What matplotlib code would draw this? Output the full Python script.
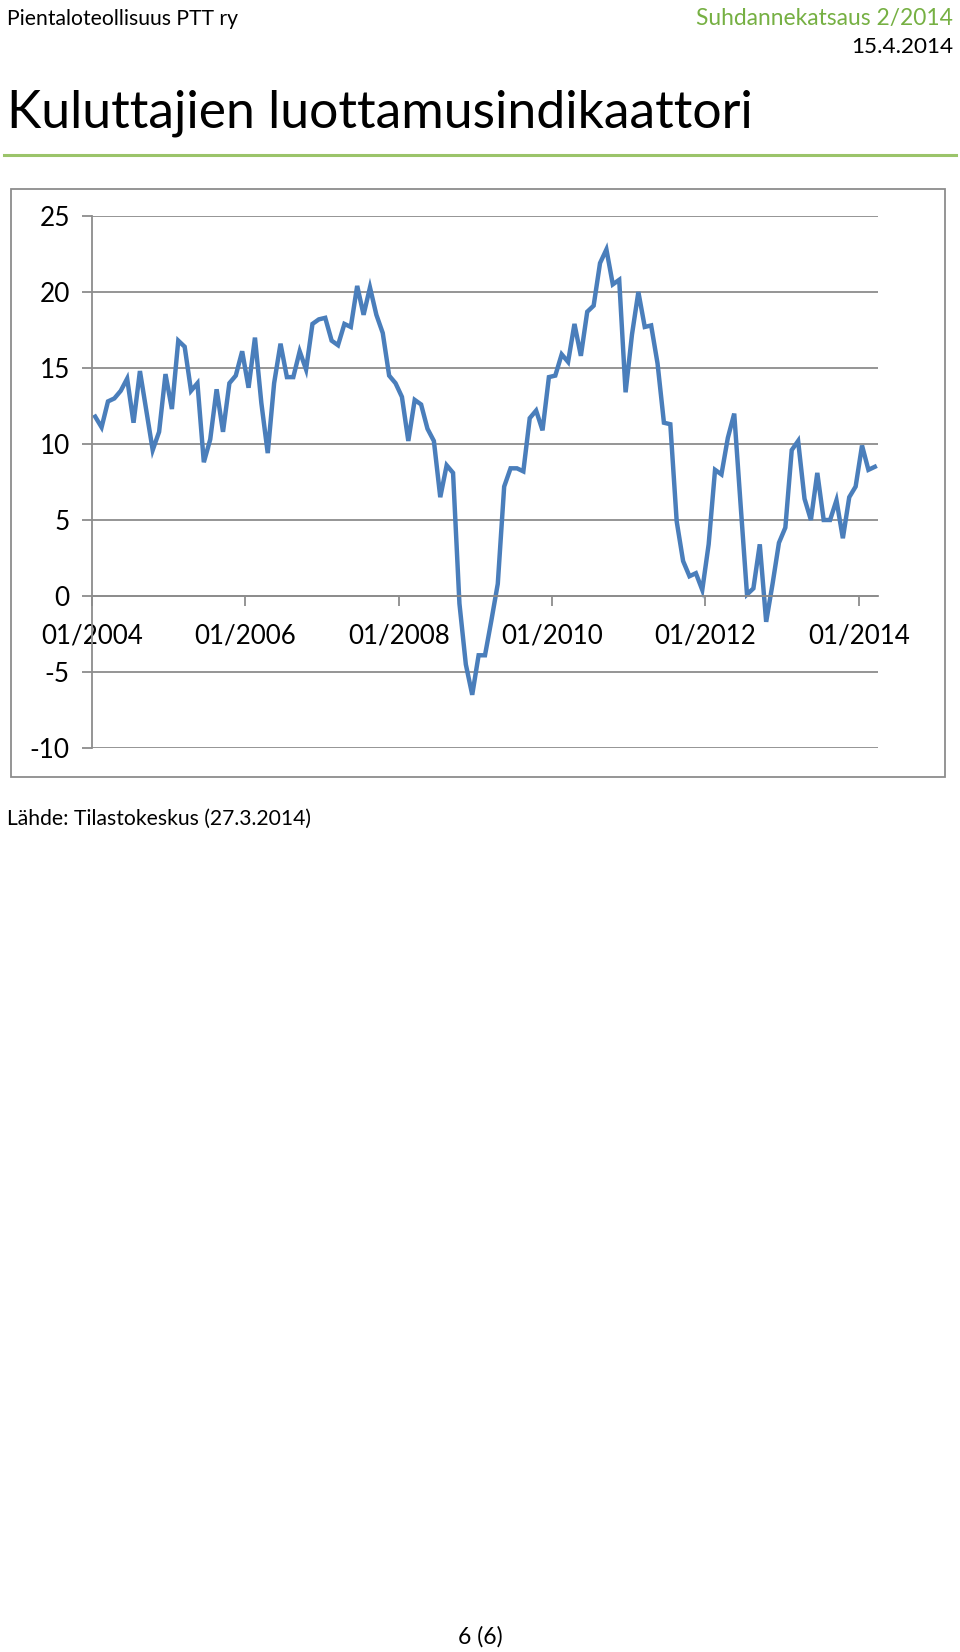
import matplotlib.pyplot as plt
from matplotlib.patches import Rectangle

plt.rcParams['font.family'] = ['Lato', 'DejaVu Sans']

# Kuukausittainen kuluttajien luottamusindikaattori 01/2004 - 03/2014
values = [
    11.8, 11.1, 12.8, 13.0, 13.5, 14.3, 11.4, 14.8, 12.2, 9.6, 10.8, 14.6,
    12.3, 16.8, 16.4, 13.5, 14.0, 8.8, 10.3, 13.6, 10.8, 14.0, 14.5, 16.1,
    13.7, 17.0, 12.7, 9.4, 14.0, 16.6, 14.4, 14.4, 16.1, 14.9, 17.9, 18.2,
    18.3, 16.8, 16.5, 17.9, 17.7, 20.4, 18.5, 20.3, 18.5, 17.3, 14.5, 14.0,
    13.1, 10.2, 12.9, 12.6, 11.0, 10.2, 6.5, 8.6, 8.1, -0.5, -4.5, -6.5,
    -3.9, -3.9, -1.6, 0.8, 7.2, 8.4, 8.4, 8.2, 11.7, 12.2, 10.9, 14.4,
    14.5, 15.9, 15.4, 17.9, 15.8, 18.7, 19.1, 21.9, 22.8, 20.5, 20.8, 13.4,
    17.2, 20.0, 17.7, 17.8, 15.3, 11.4, 11.3, 4.9, 2.3, 1.3, 1.5, 0.4,
    3.4, 8.3, 8.0, 10.4, 12.0, 6.0, 0.1, 0.5, 3.4, -1.7, 0.8, 3.5,
    4.5, 9.6, 10.2, 6.4, 5.0, 8.1, 5.0, 5.0, 6.3, 3.8, 6.5, 7.2,
    9.9, 8.3, 8.5,
]
tick_labels = ['01/2004', '01/2006', '01/2008', '01/2010', '01/2012', '01/2014']
y_ticks = [-10, -5, 0, 5, 10, 15, 20, 25]

W, H = 960, 1652
fig = plt.figure(figsize=(W / 100, H / 100), dpi=100)


def fx(x):
    return x / W


def fy(y):
    return 1 - y / H


grey = '#8c8c8c'
green_text = '#76b043'
green_line = '#9bc46a'

# otsikot
fig.text(fx(7), fy(19), 'Pientaloteollisuus PTT ry', fontsize=15.2, va='center', ha='left')
fig.text(fx(953), fy(19), 'Suhdannekatsaus 2/2014', fontsize=16.4, va='center', ha='right',
         color=green_text)
fig.text(fx(953), fy(47), '15.4.2014', fontsize=16.2, va='center', ha='right')
fig.text(fx(7), fy(113), 'Kuluttajien luottamusindikaattori', fontsize=37.3, va='center', ha='left')
fig.add_artist(plt.Line2D([fx(4), fx(956)], [fy(155), fy(155)], color=green_line, lw=2.2))

# kaavion kehys
fig.add_artist(Rectangle((fx(11), fy(777)), fx(945) - fx(11), fy(189) - fy(777),
                         fill=False, edgecolor=grey, lw=1.3))

# kuvaaja
top, bottom = 216, 748
ax = fig.add_axes([fx(92), fy(bottom), fx(878) - fx(92), (bottom - top) / H])
ax.plot(range(len(values)), values, color='#4a7ebb', lw=3.2, solid_joinstyle='miter')
ax.set_xlim(-0.5, len(values) - 0.5)
ax.set_ylim(-10, 25)

ax.set_yticks(y_ticks)
ax.set_yticklabels([str(v) for v in y_ticks])
ax.yaxis.grid(True, color=grey, lw=1.3)
ax.set_axisbelow(True)

ax.set_xticks([-0.5 + 24 * k for k in range(len(tick_labels))])
ax.set_xticklabels(tick_labels)

for s in ['top', 'right']:
    ax.spines[s].set_visible(False)
ax.spines['left'].set_color(grey)
ax.spines['left'].set_linewidth(1.3)
ax.spines['bottom'].set_position(('data', 0))
ax.spines['bottom'].set_color(grey)
ax.spines['bottom'].set_linewidth(1.3)

ax.tick_params(axis='y', length=7, width=1.3, color=grey, labelsize=18.8, pad=9)
ax.tick_params(axis='x', length=7, width=1.3, color=grey, labelsize=18.6, pad=13)

fig.text(fx(7), fy(819), 'Lähde: Tilastokeskus (27.3.2014)', fontsize=15.2, va='center', ha='left')
fig.text(fx(480), fy(1637), '6 (6)', fontsize=16.5, va='center', ha='center')

fig.savefig('out.png', dpi=100)
